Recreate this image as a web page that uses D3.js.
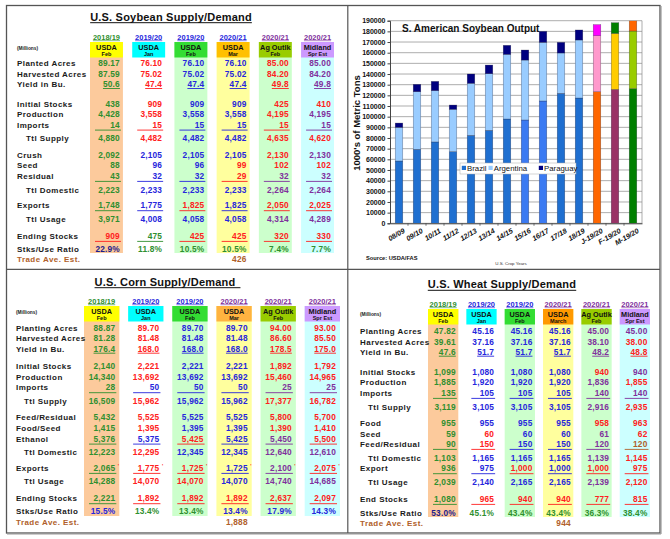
<!DOCTYPE html>
<html>
<head>
<meta charset="utf-8">
<script src="https://cdn.jsdelivr.net/npm/d3@7"></script>
<style>
  body { margin: 0; background: #fff; }
  svg { display: block; font-family: "Liberation Sans", Arial, sans-serif; }
</style>
</head>
<body>
<div id="chart"></div>
<script>
const W = 670, H = 539;

// ---------- S. American soybean output (1000's of metric tons) ----------
const cropYears = ["08/09", "09/10", "10/11", "11/12", "12/13", "13/14", "14/15",
                   "15/16", "16/17", "17/18", "18/19", "J-19/20", "F-19/20", "M-19/20"];
const brazil    = [58400, 69400, 76300, 67200, 82500, 87200, 97800, 96900, 114700, 121900, 117500, 123400, 125600, 126300];
const argentina = [31600, 54000, 48100, 39700, 48800, 53100, 60600, 56200, 55000, 37800, 54400, 52500, 52500, 54000];
const paraguay  = [4000, 6900, 8700, 4000, 8700, 8100, 8500, 9400, 10300, 10000, 9400, 10400, 10000, 9700];
const countries = ["Brazil", "Argentina", "Paraguay"];

// ---------- soybean table ----------
const soyRows = ["Planted Acres", "Harvested Acres", "Yield in Bu.", "Initial Stocks", "Production", "Imports",
                 "Ttl Supply", "Crush", "Seed", "Residual", "Ttl Domestic", "Exports", "Ttl Usage",
                 "Ending Stocks", "Stks/Use Ratio", "Trade Ave. Est."];
const soyYears = ["2018/19", "2019/20", "2019/20", "2020/21", "2020/21", "2020/21"];
const soyHeads = ["USDA", "USDA", "USDA", "USDA", "Ag Outlk", "Midland"];
const soySubs  = ["Feb", "Jan", "Feb", "Mar", "Feb", "Spr Est"];
const soyValues = [
  ["89.17", "87.59", "50.6", "438", "4,428", "14", "4,880", "2,092", "88", "43", "2,223", "1,748", "3,971", "909", "22.9%", ""],
  ["76.10", "75.02", "47.4", "909", "3,558", "15", "4,482", "2,105", "96", "32", "2,233", "1,775", "4,008", "475", "11.8%", ""],
  ["76.10", "75.02", "47.4", "909", "3,558", "15", "4,482", "2,105", "96", "32", "2,233", "1,825", "4,058", "425", "10.5%", ""],
  ["76.10", "75.02", "47.4", "909", "3,558", "15", "4,482", "2,105", "99", "29", "2,233", "1,825", "4,058", "425", "10.5%", "426"],
  ["85.00", "84.20", "49.8", "425", "4,195", "15", "4,635", "2,130", "102", "32", "2,264", "2,050", "4,314", "320", "7.4%", ""],
  ["85.00", "84.20", "49.8", "410", "4,195", "15", "4,620", "2,130", "102", "32", "2,264", "2,025", "4,289", "330", "7.7%", ""]
];

// ---------- corn table ----------
const cornRows = ["Planting Acres", "Harvested Acres", "Yield in Bu.", "Initial Stocks", "Production", "Imports",
                  "Ttl Supply", "Feed/Residual", "Food/Seed", "Ethanol", "Ttl Domestic", "Exports", "Ttl Usage",
                  "Ending Stocks", "Stks/Use Ratio", "Trade Ave. Est."];
const cornYears = ["2018/19", "2019/20", "2019/20", "2020/21", "2020/21", "2020/21"];
const cornHeads = ["USDA", "USDA", "USDA", "USDA", "Ag Outlk", "Midland"];
const cornSubs  = ["Feb", "Jan", "Feb", "Mar", "Feb", "Spr Est"];
const cornValues = [
  ["88.87", "81.28", "176.4", "2,140", "14,340", "28", "16,509", "5,432", "1,415", "5,376", "12,223", "2,065", "14,288", "2,221", "15.5%", ""],
  ["89.70", "81.48", "168.0", "2,221", "13,692", "50", "15,962", "5,525", "1,395", "5,375", "12,295", "1,775", "14,070", "1,892", "13.4%", ""],
  ["89.70", "81.48", "168.0", "2,221", "13,692", "50", "15,962", "5,525", "1,395", "5,425", "12,345", "1,725", "14,070", "1,892", "13.4%", ""],
  ["89.70", "81.48", "168.0", "2,221", "13,692", "50", "15,962", "5,525", "1,395", "5,425", "12,345", "1,725", "14,070", "1,892", "13.4%", "1,888"],
  ["94.00", "86.60", "178.5", "1,892", "15,460", "25", "17,377", "5,800", "1,390", "5,450", "12,640", "2,100", "14,740", "2,637", "17.9%", ""],
  ["93.00", "85.50", "175.0", "1,792", "14,965", "25", "16,782", "5,700", "1,410", "5,500", "12,610", "2,075", "14,685", "2,097", "14.3%", ""]
];

// ---------- wheat table ----------
const wheatRows = ["Planting Acres", "Harvested Acres", "Yield in Bu.", "Initial Stocks", "Production", "Imports",
                   "Ttl Supply", "Food", "Seed", "Feed/Residual", "Ttl Domestic", "Export", "Ttl Usage",
                   "End Stocks", "Stks/Use Ratio", "Trade Ave. Est."];
const wheatYears = ["2018/19", "2019/20", "2019/20", "2020/21", "2020/21", "2020/21"];
const wheatHeads = ["USDA", "USDA", "USDA", "USDA", "Ag Outlk", "Midland"];
const wheatSubs  = ["Feb", "Jan", "Feb", "March", "Feb", "Spr Est"];
const wheatValues = [
  ["47.82", "39.61", "47.6", "1,099", "1,885", "135", "3,119", "955", "59", "90", "1,103", "936", "2,039", "1,080", "53.0%", ""],
  ["45.16", "37.16", "51.7", "1,080", "1,920", "105", "3,105", "955", "60", "150", "1,165", "975", "2,140", "965", "45.1%", ""],
  ["45.16", "37.16", "51.7", "1,080", "1,920", "105", "3,105", "955", "60", "150", "1,165", "1,000", "2,165", "940", "43.4%", ""],
  ["45.16", "37.16", "51.7", "1,080", "1,920", "105", "3,105", "955", "60", "150", "1,165", "1,000", "2,165", "940", "43.4%", "944"],
  ["45.00", "38.10", "48.2", "940", "1,836", "140", "2,916", "958", "61", "120", "1,139", "1,000", "2,139", "777", "36.3%", ""],
  ["45.00", "38.00", "48.8", "940", "1,855", "140", "2,935", "963", "62", "120", "1,145", "975", "2,120", "815", "38.4%", ""]
];

// ---------- styles ----------
const INK = { g: "#2f8f2f", r: "#ff2020", b: "#2626dc", p: "#80309c", n: "#1c1c8c", w: "#b0602a", k: "#1a1a1a" };
const soyInk   = ["gggggggggggggrn-", "rrrrrrrbbbbbbgg-", "bbbbbbbbbbbrbrg-", "bbbbbbbbrrbbbrgw", "rrrrrrrrrpprprg-", "ppprpprprpprprg-"];
const cornInk  = ["ggggggggggggggb-", "rrrrrbrrrbrrrrg-", "bbbbbbbbbrbrrrg-", "bbbbbbbbbbbbbrbw", "rrrrrprrrpppprb-", "rrrrrprrrrprprb-"];
const wheatInk = ["ggggggggggggggn-", "bbbbbbbbrrbbbrg-", "bbbbbbbbbbbrbrg-", "bbbbbbbbbbbbbrgw", "ppprppprppprprg-", "prrprprrrwrrrrg-"];
const colBg = ["#fcca9c", "#ffffff", "#ccffcc", "#ffff9e", "#ccffcc", "#ccffff"];
const brazilInk = ["#1f6fd0", "#1f6fd0", "#1f6fd0", "#1f6fd0", "#1f6fd0", "#1f6fd0", "#1f6fd0",
                   "#3b7af2", "#3b7af2", "#1f6fd0", "#1f6fd0", "#ff6600", "#993366", "#008000"];
const argentinaInk = d3.range(11).map(() => "#99ccff").concat(["#ff99cc", "#ffcc00", "#99cc00"]);
const paraguayInk = d3.range(11).map(() => "#000080").concat(["#ff00ff", "#008000", "#ff6600"]);
const legendInk = ["#1f6fd0", "#99ccff", "#000080"];

const svg = d3.select("#chart").append("svg").attr("width", W).attr("height", H);
svg.append("rect").attr("width", W).attr("height", H).attr("fill", "#fff");

// ---------- tables ----------
function drawTable(t) {
  const g = svg.append("g");
  const x = d3.scaleBand().domain(d3.range(t.heads.length)).range(t.colRange).paddingInner(t.pad);
  const bw = x.bandwidth();
  const right = c => x(c) + bw - t.inset;

  g.selectAll(".colbg").data(colBg).join("rect")
    .attr("x", (d, i) => x(i)).attr("y", t.headTop)
    .attr("width", bw).attr("height", t.bgBottom - t.headTop)
    .attr("fill", d => d);

  g.selectAll(".head").data(t.headFill).join("rect")
    .attr("x", (d, i) => x(i)).attr("y", t.headTop)
    .attr("width", bw).attr("height", 15.5)
    .attr("fill", d => d);

  t.heads.forEach((h, i) => {
    const cx = x(i) + bw / 2;
    g.append("text").attr("x", cx).attr("y", t.headTop + 7.6)
      .attr("text-anchor", "middle").style("font-size", "7.3px").style("font-weight", "bold")
      .attr("fill", "#111").text(h);
    g.append("text").attr("x", cx).attr("y", t.headTop + 14)
      .attr("text-anchor", "middle").style("font-size", "5.5px").style("font-weight", "bold")
      .attr("fill", "#111").text(t.subs[i]);
    const yr = g.append("text").attr("x", cx).attr("y", t.headTop - 2.3)
      .attr("text-anchor", "middle").style("font-size", "7.5px").style("font-weight", "bold")
      .attr("fill", INK[t.yearInk[i]]).text(t.years[i]);
    const len = yr.node().getComputedTextLength();
    g.append("line").attr("x1", cx - len / 2).attr("x2", cx + len / 2)
      .attr("y1", t.headTop - 1.3).attr("y2", t.headTop - 1.3)
      .attr("stroke", INK[t.yearInk[i]]).attr("stroke-width", 0.6);
  });

  const title = g.append("text").attr("x", t.titleX).attr("y", t.titleY)
    .attr("text-anchor", "middle").style("font-size", "11px").style("font-weight", "bold")
    .style("letter-spacing", "0.2px").attr("fill", "#111").text(t.title);
  const tl = title.node().getComputedTextLength();
  g.append("line").attr("x1", t.titleX - tl / 2).attr("x2", t.titleX + tl / 2 + t.titleTail)
    .attr("y1", t.titleY + 2).attr("y2", t.titleY + 2).attr("stroke", "#111").attr("stroke-width", 1);

  g.append("text").attr("x", t.labelX).attr("y", t.millionsY)
    .style("font-size", "4.8px").style("font-weight", "bold").attr("fill", "#222").text("(Millions)");

  t.rows.forEach((label, r) => {
    const indent = /^Ttl/.test(label) ? t.indent : 0;
    g.append("text").attr("x", t.labelX + indent).attr("y", t.rowY[r] + 3)
      .style("font-size", "8px").style("font-weight", "bold").style("letter-spacing", "0.45px")
      .attr("fill", r === t.rows.length - 1 ? INK.w : INK.k).text(label);
  });

  t.values.forEach((col, c) => {
    col.forEach((v, r) => {
      if (!v) return;
      const ink = INK[t.ink[c][r]];
      const base = t.rowY[r] + 3;
      const txt = g.append("text").attr("x", right(c)).attr("y", base)
        .attr("text-anchor", "end").style("font-size", "8.3px").style("font-weight", "bold")
        .style("letter-spacing", "0.2px").attr("fill", ink).text(v);
      if (r === 2) {
        const len = txt.node().getComputedTextLength();
        g.append("line").attr("x1", right(c) - len).attr("x2", right(c))
          .attr("y1", base + 1.2).attr("y2", base + 1.2).attr("stroke", ink).attr("stroke-width", 0.9);
      } else if (t.lined.includes(r)) {
        g.append("line").attr("x1", x(c) + 5).attr("x2", right(c) + 1)
          .attr("y1", base + 2.4).attr("y2", base + 2.4).attr("stroke", ink).attr("stroke-width", 0.9);
      }
      if (t.tick === r) {
        g.append("text").attr("x", right(c) + 2.5).attr("y", base - 3.5)
          .style("font-size", "5px").style("font-weight", "bold").attr("fill", INK.r).text("'");
      }
    });
  });
}

drawTable({
  title: "U.S. Soybean Supply/Demand", titleX: 171, titleY: 20.7, titleTail: 0,
  rows: soyRows, years: soyYears, heads: soyHeads, subs: soySubs, values: soyValues, ink: soyInk,
  yearInk: "gbbbpp", headFill: ["#ffff00", "#00ffff", "#33dd33", "#ffc000", "#99cc00", "#cc99ff"],
  colRange: [90, 334], pad: 0.22, inset: 3, headTop: 42, bgBottom: 253,
  labelX: 17, indent: 9, millionsY: 49.5, lined: [5, 9, 11, 13], tick: -1,
  rowY: [63.3, 74, 84.3, 103.7, 114, 124.7, 138, 155, 165.3, 176, 190, 205.3, 219, 236, 249, 258.7]
});

drawTable({
  title: "U.S. Corn Supply/Demand", titleX: 165, titleY: 285.7, titleTail: 5,
  rows: cornRows, years: cornYears, heads: cornHeads, subs: cornSubs, values: cornValues, ink: cornInk,
  yearInk: "gbbppp", headFill: ["#ffff00", "#00ffff", "#33dd33", "#ffb340", "#99cc00", "#cc99ff"],
  colRange: [84, 340], pad: 0.2, inset: 4, headTop: 306, bgBottom: 516,
  labelX: 16, indent: 8, millionsY: 313.5, lined: [5, 9, 11, 13], tick: 11,
  rowY: [327.7, 338.3, 349, 366.3, 376.7, 387.3, 400.7, 417.3, 428, 438.7, 452, 468, 481.3, 498.3, 511.3, 522]
});

drawTable({
  title: "U.S. Wheat Supply/Demand", titleX: 502, titleY: 288.3, titleTail: 0,
  rows: wheatRows, years: wheatYears, heads: wheatHeads, subs: wheatSubs, values: wheatValues, ink: wheatInk,
  yearInk: "gbbppp", headFill: ["#ffff00", "#00ffff", "#33dd33", "#ff9900", "#99cc00", "#cc99ff"],
  colRange: [428, 650], pad: 0.21, inset: 2.5, headTop: 309, bgBottom: 517,
  labelX: 360, indent: 8, millionsY: 316, lined: [5, 9, 11, 13], tick: -1,
  rowY: [331, 341.7, 352, 371.7, 382.3, 393, 406.7, 423.3, 434, 444, 457.7, 468.3, 482, 499, 512.7, 522.7]
});

// ---------- stacked bar chart ----------
const plot = { left: 390, right: 642, top: 20.7, bottom: 223.3 };
const x = d3.scaleBand().domain(cropYears).range([plot.left, plot.right])
  .paddingInner(0.58).paddingOuter(0.29);
const y = d3.scaleLinear().domain([0, 190000]).range([plot.bottom, plot.top]);

const chart = svg.append("g");

chart.selectAll(".grid").data(y.ticks(19)).join("line")
  .attr("x1", plot.left).attr("x2", plot.right)
  .attr("y1", d => y(d)).attr("y2", d => y(d))
  .attr("stroke", "#8a8a8a").attr("stroke-width", 0.7);
chart.append("line").attr("x1", plot.right).attr("x2", plot.right)
  .attr("y1", plot.top).attr("y2", plot.bottom).attr("stroke", "#8a8a8a").attr("stroke-width", 0.7);

const table = cropYears.map((yr, i) => ({ year: yr, Brazil: brazil[i], Argentina: argentina[i], Paraguay: paraguay[i] }));
const stacked = d3.stack().keys(countries)(table);
const inks = [brazilInk, argentinaInk, paraguayInk];

chart.append("clipPath").attr("id", "plotclip").append("rect")
  .attr("x", plot.left).attr("y", plot.top).attr("width", plot.right - plot.left).attr("height", plot.bottom - plot.top);

chart.append("g").attr("clip-path", "url(#plotclip)")
  .selectAll("g").data(stacked).join("g")
  .each(function (series, s) {
    d3.select(this).selectAll("rect").data(series).join("rect")
      .attr("x", d => x(d.data.year))
      .attr("width", x.bandwidth())
      .attr("y", d => y(d[1]))
      .attr("height", d => y(d[0]) - y(d[1]))
      .attr("fill", (d, i) => inks[s][i])
      .attr("stroke", "rgba(40,40,60,0.55)")
      .attr("stroke-width", 0.5);
  });

const yAxis = chart.append("g").attr("transform", `translate(${plot.left},0)`)
  .call(d3.axisLeft(y).ticks(19).tickSize(2.5).tickPadding(2).tickFormat(d3.format("d")));
yAxis.select(".domain").attr("stroke", "#444");
yAxis.selectAll(".tick line").attr("stroke", "#444");
yAxis.selectAll("text").style("font-size", "7px").style("font-weight", "bold").attr("fill", "#111")
  .style("font-family", "'Liberation Sans', Arial, sans-serif");

const xAxis = chart.append("g").attr("transform", `translate(0,${plot.bottom})`)
  .call(d3.axisBottom(x).tickSize(0).tickFormat(""));
xAxis.select(".domain").attr("stroke", "#444");
chart.selectAll(".xtick").data(cropYears.slice(1)).join("line")
  .attr("x1", d => x(d) - x.step() * x.paddingInner() / 2)
  .attr("x2", d => x(d) - x.step() * x.paddingInner() / 2)
  .attr("y1", plot.bottom).attr("y2", plot.bottom + 2.5)
  .attr("stroke", "#444").attr("stroke-width", 0.7);

chart.selectAll(".xlab").data(cropYears).join("text")
  .attr("transform", d => `translate(${x(d) + x.bandwidth() / 2 + 6.5},${plot.bottom + 9}) rotate(-30)`)
  .attr("text-anchor", "end")
  .style("font-size", "7.2px").style("font-weight", "bold").style("font-style", "italic")
  .attr("fill", "#111").text(d => d);

chart.append("text").attr("x", 402).attr("y", 31.5)
  .style("font-size", "10px").style("font-weight", "bold").attr("fill", "#111")
  .text("S. American Soybean Output");

chart.append("text").attr("transform", `translate(359.5,123) rotate(-90)`)
  .attr("text-anchor", "middle").style("font-size", "9.5px").style("font-weight", "bold")
  .attr("fill", "#111").text("1000's of Metric Tons");

// legend
const legend = chart.append("g");
legend.append("rect").attr("x", 460).attr("y", 163).attr("width", 116).attr("height", 11)
  .attr("fill", "#fff").attr("stroke", "#aaa").attr("stroke-width", 0.5);
const legX = d3.scaleOrdinal().domain(countries).range([461.8, 488.5, 538.8]);
countries.forEach((c, i) => {
  legend.append("rect").attr("x", legX(c)).attr("y", 165.8).attr("width", 4.2).attr("height", 4.2)
    .attr("fill", legendInk[i]);
  legend.append("text").attr("x", legX(c) + 5.2).attr("y", 171)
    .style("font-size", "7.8px").attr("fill", "#111").text(c);
});

chart.append("text").attr("x", 366).attr("y", 259.5)
  .style("font-size", "5.7px").style("font-weight", "bold").attr("fill", "#111").text("Source: USDA/FAS");
chart.append("text").attr("x", 511).attr("y", 264.5).attr("text-anchor", "middle")
  .style("font-size", "4.4px").attr("fill", "#333").text("U.S. Crop Years");

// ---------- frame ----------
svg.append("rect").attr("x", 6.5).attr("y", 5.5).attr("width", 653.5).attr("height", 527.5)
  .attr("fill", "none").attr("stroke", "#555").attr("stroke-width", 1.3);
svg.append("line").attr("x1", 7).attr("x2", 661).attr("y1", 534).attr("y2", 534)
  .attr("stroke", "#999").attr("stroke-width", 1.2);
svg.append("line").attr("x1", 661).attr("x2", 661).attr("y1", 6).attr("y2", 534)
  .attr("stroke", "#999").attr("stroke-width", 1.2);
svg.append("line").attr("x1", 347.8).attr("x2", 347.8).attr("y1", 5.5).attr("y2", 533)
  .attr("stroke", "#555").attr("stroke-width", 1.2);
svg.append("line").attr("x1", 6.5).attr("x2", 660).attr("y1", 269.3).attr("y2", 269.3)
  .attr("stroke", "#555").attr("stroke-width", 1.2);
</script>
</body>
</html>
